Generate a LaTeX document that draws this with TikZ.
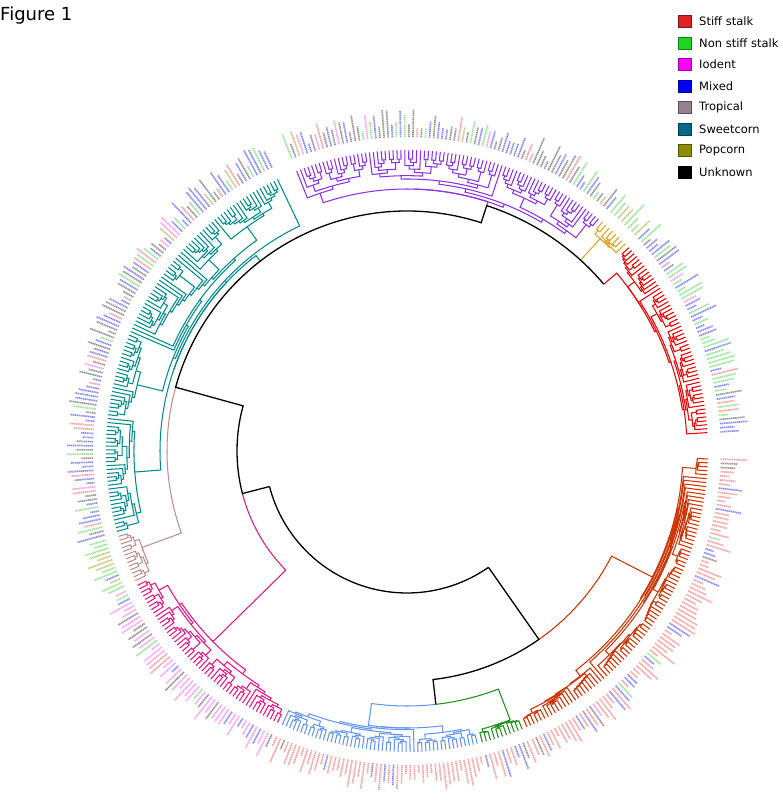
\documentclass[tikz,border=0pt]{standalone}
\usepackage{fontspec}
\setmainfont{DejaVu Sans}
\definecolor{cpurple}{RGB}{138,50,226}
\definecolor{cgold}{RGB}{218,165,32}
\definecolor{cred}{RGB}{232,0,0}
\definecolor{corange}{RGB}{204,51,0}
\definecolor{cgreen}{RGB}{34,139,34}
\definecolor{cblue}{RGB}{100,149,237}
\definecolor{cpink}{RGB}{232,20,130}
\definecolor{cbrown}{RGB}{188,143,143}
\definecolor{cteal}{RGB}{0,139,139}
\definecolor{labss}{RGB}{242,165,165}
\definecolor{labmx}{RGB}{140,140,245}
\definecolor{labnss}{RGB}{155,228,155}
\definecolor{labuk}{RGB}{150,150,150}
\definecolor{labio}{RGB}{245,165,245}
\definecolor{labpc}{RGB}{200,200,135}
\definecolor{lgss}{RGB}{220,35,35}
\definecolor{lgnss}{RGB}{30,215,30}
\definecolor{lgio}{RGB}{255,0,255}
\definecolor{lgmx}{RGB}{0,0,255}
\definecolor{lgtr}{RGB}{150,130,145}
\definecolor{lgsw}{RGB}{0,105,135}
\definecolor{lgpc}{RGB}{140,140,0}
\definecolor{lguk}{RGB}{0,0,0}
\newcount\seedc \newcount\rv \newcount\seedl \newcount\rvl
\newif\ifcldraw
\def\nextrand{%
  \global\seedc=\numexpr\seedc*25173+13849\relax
  \global\seedc=\numexpr\seedc-((\seedc-32768)/65536)*65536\relax
  \global\rv=\numexpr(\seedc-328)/656\relax
  \ifnum\rv<0 \global\rv=0 \fi
  \ifnum\rv>99 \global\rv=99 \fi}
\def\nextrandl{%
  \global\seedl=\numexpr\seedl*20077+12345\relax
  \global\seedl=\numexpr\seedl-((\seedl-32768)/65536)*65536\relax
  \global\rvl=\numexpr(\seedl-328)/656\relax
  \ifnum\rvl<0 \global\rvl=0 \fi
  \ifnum\rvl>99 \global\rvl=99 \fi}
\global\seedl=4321
\def\Rtip{301}
\def\czero{9}
\def\Rlab{314}
\def\setlabmix#1#2#3#4#5{\def\mA{#1}\def\mB{#2}\def\mC{#3}\def\mD{#4}\def\mE{#5}}
\def\pickcol{%
 \ifnum\rvl<\mA\relax\def\lc{labss}\else
 \ifnum\rvl<\mB\relax\def\lc{labmx}\else
 \ifnum\rvl<\mC\relax\def\lc{labnss}\else
 \ifnum\rvl<\mD\relax\def\lc{labuk}\else
 \ifnum\rvl<\mE\relax\def\lc{labio}\else\def\lc{labpc}\fi\fi\fi\fi\fi}
\def\drawlabel#1{%
  \nextrandl
  \pgfmathsetmacro\labend{\Rlab+8+\rvl/5}%
  \nextrandl
  \pickcol
  \draw[labstroke,draw=\lc] (#1:\Rlab pt) -- (#1:\labend pt);}
\def\clade#1#2{%
 \begingroup
 \ifnum#2=1\relax
   \pgfmathsetmacro\leafA{\Astart-#1*\Astep}%
   \ifcldraw\drawlabel{\leafA}\fi
   \xdef\retA{\leafA}\xdef\retR{\Rtip}\xdef\retH{0}%
 \else
   \ifx\forcek\empty
     \nextrand
     \ifnum\rv<\peel\relax
       \nextrand
       \ifnum\rv<\peelside\relax\edef\spk{1}\else\edef\spk{\the\numexpr#2-1\relax}\fi
     \else
       \nextrand
       \edef\spk{\the\numexpr(#2*(25+\rv/2))/100\relax}%
       \ifnum\spk<1 \edef\spk{1}\fi
       \ifnum\spk>\numexpr#2-1\relax\edef\spk{\the\numexpr#2-1\relax}\fi
     \fi
   \else
     \edef\spk{\forcek}\gdef\forcek{}%
   \fi
   \edef\cnext{\noexpand\clade{#1}{\spk}}\cnext
   \edef\aLf{\retA}\edef\rLf{\retR}\edef\hLf{\retH}%
   \edef\cnext{\noexpand\clade{\the\numexpr#1+\spk\relax}{\the\numexpr#2-\spk\relax}}\cnext
   \edef\aRt{\retA}\edef\rRt{\retR}\edef\hRt{\retH}%
   \ifnum\hLf>\hRt\relax\edef\hh{\the\numexpr\hLf+1\relax}\else\edef\hh{\the\numexpr\hRt+1\relax}\fi
   \pgfmathsetmacro\nodeR{\Rtip-\czero-\cone*(\hh-1)}%
   \ifcldraw
     \draw[cl] (\aLf:\rLf pt) -- (\aLf:\nodeR pt) arc[start angle=\aLf,end angle=\aRt,radius=\nodeR pt] -- (\aRt:\rRt pt);%
   \fi
   \pgfmathsetmacro\nodeA{(\aLf+\aRt)/2}%
   \xdef\retA{\nodeA}\xdef\retR{\nodeR}\xdef\retH{\hh}%
 \fi
 \endgroup}
\def\setclade#1#2#3#4#5{\def\Astart{#1}\def\Astep{#2}\def\Nleaves{#3}\def\rroot{#4}\def\cladecol{#5}}
\def\setshape#1#2#3#4{\def\peel{#1}\def\peelside{#2}\def\firstk{#3}\def\seedinit{#4}}
\def\setattach#1#2#3{\def\attR{#1}\def\attP{#2}\def\attA{#3}}
\def\runclade{%
  \global\seedc=\seedinit\relax
  \xdef\forcek{\firstk}%
  \cldrawfalse
  \def\cone{3}%
  \clade{0}{\Nleaves}%
  \pgfmathsetmacro\cone{(\Rtip-\czero-\rroot)/max(\retH-1,1)}%
  \global\seedc=\seedinit\relax
  \xdef\forcek{\firstk}%
  \cldrawtrue
  \colorlet{cc}{\cladecol}%
  \clade{0}{\Nleaves}%
  \draw[cl] (\attP:\attR pt) arc[start angle=\attP,end angle=\attA,radius=\attR pt] -- (\attA:\rroot pt) arc[start angle=\attA,end angle=\retA,radius=\rroot pt];%
}
\tikzset{
  cl/.style={draw=cc,line width=1.05pt},
  bb/.style={draw=black,line width=1.3pt},
  labstroke/.style={line width=1.7pt,dash pattern=on 1.3pt off 0.6pt},
  legbox/.style={minimum width=13pt,minimum height=12pt,inner sep=0pt,line width=0.6pt},
  legtxt/.style={font=\fontsize{11.5}{13}\selectfont,inner sep=0pt,anchor=west}
}
\begin{document}
\begin{tikzpicture}
\useasboundingbox (0pt,0pt) rectangle (783pt,800pt);
\node[anchor=west,inner sep=0pt,font=\fontsize{18}{20}\selectfont] (fig) at (0pt,784pt) {Figure 1};
\foreach \i/\nm/\col in {0/Stiff stalk/lgss,1/Non stiff stalk/lgnss,2/Iodent/lgio,3/Mixed/lgmx,4/Tropical/lgtr,5/Sweetcorn/lgsw,6/Popcorn/lgpc,7/Unknown/lguk}{
  \pgfmathsetmacro\yy{800-21.7-21.45*\i}
  \node[legbox,fill=\col,draw=\col!60!black] (lb\i) at (685pt,\yy pt) {};
  \node[legtxt] (lt\i) at (699pt,\yy pt) {\nm};
}
\begin{scope}[shift={(407pt,349pt)}]
% purple
\setclade{111.5}{0.7531}{82}{262}{cpurple}\setshape{25}{50}{19}{1234}\setattach{258}{72.01}{72}\setlabmix{8}{35}{50}{95}{98}\runclade
% gold
\setclade{49.5}{0.857}{8}{287}{cgold}\setshape{30}{50}{}{777}\setattach{258}{47.71}{47.7}\setlabmix{0}{10}{70}{80}{80}\runclade
% red
\setclade{42.5}{0.75}{53}{275}{cred}\setshape{50}{30}{}{2024}\setattach{258}{40.31}{40.3}\setlabmix{5}{45}{80}{88}{96}\runclade
% orange
\setclade{358.5}{0.7558}{87}{276}{corange}\setshape{55}{80}{5}{999}\setattach{230}{305}{332.8}\setlabmix{70}{88}{93}{98}{100}\runclade
% green
\setclade{292.5}{0.8}{11}{288}{cgreen}\setshape{30}{50}{}{314}\setattach{255}{276.5}{291}\setlabmix{70}{95}{97}{100}{100}\runclade
% blue
\setclade{283.5}{0.76}{51}{277}{cblue}\setshape{25}{50}{}{5555}\setattach{255}{276.5}{262}\setlabmix{75}{95}{97}{100}{100}\runclade
% pink
\setclade{244.5}{0.76}{51}{272}{cpink}\setshape{35}{50}{24}{8080}\setattach{170}{194.5}{224.5}\setlabmix{2}{10}{20}{26}{100}\runclade
% brown
\setclade{205.5}{0.75}{13}{282}{cbrown}\setshape{50}{50}{}{4242}\setattach{240}{164.6}{200}\setlabmix{0}{10}{70}{75}{78}\runclade
% teal
\setclade{195.5}{0.7477}{108}{247}{cteal}\setshape{68}{45}{30}{6161}\setattach{240}{127.71}{127.7}\setlabmix{12}{55}{68}{92}{94}\runclade
% black backbone
\draw[bb] (194.5:142pt) arc[start angle=194.5,end angle=305,radius=142pt];
\draw[bb] (194.5:142pt) -- (194.5:170pt) arc[start angle=194.5,end angle=164.6,radius=170pt] -- (164.6:240pt) arc[start angle=164.6,end angle=72,radius=240pt] -- (72:258pt) arc[start angle=72,end angle=40.3,radius=258pt];
\draw[bb] (305:142pt) -- (305:230pt) arc[start angle=305,end angle=276.5,radius=230pt] -- (276.5:255pt);
\end{scope}
\end{tikzpicture}
\end{document}
